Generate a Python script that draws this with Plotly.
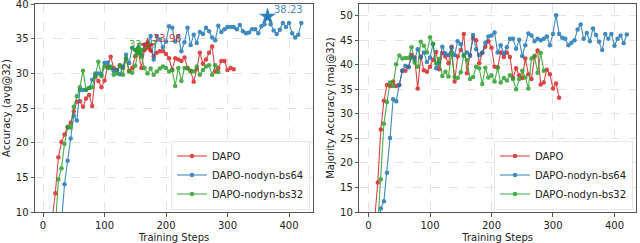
import plotly.graph_objects as go

# ---------------- data ----------------
# Left panel: Accuracy (avg@32)
avg_dapo_steps = list(range(15, 315, 5))
avg_dapo = [9.0, 12.7, 17.9, 20.1, 21.2, 22.2, 22.9, 24.5, 25.9, 26.0,
            25.2, 26.4, 26.9, 25.3, 29.6, 28.9, 28.0, 29.0, 31.0, 32.4,
            30.8, 30.5, 31.2, 30.8, 32.1, 30.4, 30.8, 32.5, 33.0, 30.8,
            33.4, 33.96, 33.3, 32.5, 33.0, 33.2, 33.2, 32.8, 32.2, 30.5,
            32.2, 32.0, 31.8, 32.3, 30.8, 30.4, 28.8, 30.6, 33.0, 31.4,
            32.0, 33.0, 33.9, 30.3, 30.8, 31.8, 31.8, 30.5, 30.8, 30.6]

avg_bs64_steps = list(range(30, 425, 5))
avg_bs64 = [8.4, 14.0, 17.4, 20.6, 23.9, 23.2, 27.6, 27.6, 27.6, 27.9,
            29.1, 30.0, 30.0, 29.9, 31.5, 31.6, 30.8, 30.4, 30.5, 29.9,
            31.0, 32.7, 31.5, 33.7, 33.4, 33.7, 32.7, 34.2, 34.4, 35.4,
            32.0, 35.4, 34.9, 33.8, 34.6, 36.8, 36.6, 34.6, 35.4, 33.2,
            34.5, 36.6, 34.1, 35.6, 34.4, 36.0, 35.7, 36.6, 36.1, 35.2,
            34.8, 36.9, 36.0, 36.4, 36.7, 36.7, 36.7, 36.4, 37.0, 36.1,
            35.8, 35.9, 36.4, 36.4, 35.8, 36.8, 37.1, 38.23, 37.1, 36.2,
            35.7, 36.3, 37.3, 36.7, 37.3, 35.8, 35.2, 35.6, 37.3]

avg_bs32_steps = list(range(20, 290, 5))
avg_bs32 = [7.6, 14.7, 16.3, 19.8, 22.3, 22.2, 25.2, 26.7, 28.0, 30.4,
            27.7, 27.9, 28.0, 29.6, 31.7, 29.6, 31.0, 30.8, 31.0, 29.8,
            30.0, 31.1, 29.8, 32.2, 30.3, 30.1, 31.1, 33.27, 32.4, 30.8,
            30.0, 30.7, 29.8, 30.3, 30.7, 31.0, 30.8, 30.3, 30.5, 28.2,
            30.8, 28.9, 30.8, 30.7, 30.3, 30.3, 31.0, 29.8, 30.5, 31.0,
            31.2, 29.8, 31.2, 30.2]

# Right panel: Majority Accuracy (maj@32)
maj_dapo_steps = list(range(10, 315, 5))
maj_dapo = [8.5, 16.0, 26.8, 32.7, 35.9, 35.7, 36.6, 35.7, 35.9, 38.8,
            38.8, 39.6, 42.0, 41.5, 35.2, 41.7, 38.9, 38.6, 39.6, 41.0,
            42.6, 39.1, 42.4, 41.7, 40.3, 43.7, 36.6, 41.7, 43.0, 46.3,
            38.3, 42.0, 45.4, 45.0, 40.3, 42.4, 43.7, 44.8, 43.5, 39.6,
            39.5, 42.5, 41.6, 42.5, 41.6, 37.3, 39.3, 37.9, 37.3, 41.3,
            38.1, 37.1, 41.7, 42.9, 36.0, 36.4, 39.0, 38.1, 35.2, 36.2,
            33.3]

maj_bs64_steps = list(range(15, 425, 5))
maj_bs64 = [7.0, 10.7, 12.2, 18.0, 25.1, 33.0, 32.6, 35.9, 38.8, 39.8,
            39.5, 41.5, 41.0, 43.2, 41.5, 42.5, 40.6, 41.5, 44.2, 39.3,
            40.5, 43.7, 42.3, 42.0, 43.5, 42.0, 44.8, 44.2, 41.8, 42.5,
            41.8, 46.1, 43.2, 42.0, 42.5, 44.5, 45.8, 46.0, 46.6, 42.5,
            44.0, 42.3, 43.6, 45.3, 45.3, 43.3, 45.1, 41.8, 44.0, 46.4,
            46.0, 44.8, 45.3, 45.0, 45.3, 45.8, 44.0, 46.3, 50.1, 46.3,
            45.5, 45.3, 44.0, 44.5, 45.0, 47.2, 48.2, 45.3, 46.5, 44.8,
            47.4, 46.1, 44.7, 43.0, 46.3, 45.3, 46.3, 43.9, 45.3, 46.0,
            44.4, 46.2]

maj_bs32_steps = list(range(15, 290, 5))
maj_bs32 = [7.2, 16.7, 28.0, 32.4, 36.4, 35.7, 40.1, 41.9, 41.3, 41.4,
            41.4, 43.6, 40.5, 39.6, 44.7, 43.9, 42.5, 45.6, 44.3, 40.3,
            41.2, 37.7, 38.6, 37.6, 42.4, 37.5, 37.3, 38.5, 42.0, 41.0,
            37.1, 37.5, 39.6, 39.3, 36.1, 39.4, 37.4, 37.9, 36.6, 39.4,
            36.4, 37.3, 36.8, 37.9, 37.1, 35.0, 37.1, 38.8, 37.4, 35.2,
            41.3, 41.8, 38.4, 42.4, 38.8]

series_names = ["DAPO", "DAPO-nodyn-bs64", "DAPO-nodyn-bs32"]
colors = ["#d62728", "#1f77b4", "#2ca02c"]
x_ticks = [0, 100, 200, 300, 400]

for s, v in [(avg_dapo_steps, avg_dapo), (avg_bs64_steps, avg_bs64), (avg_bs32_steps, avg_bs32),
             (maj_dapo_steps, maj_dapo), (maj_bs64_steps, maj_bs64), (maj_bs32_steps, maj_bs32)]:
    assert len(s) == len(v), (len(s), len(v))

# ---------------- figure ----------------
fig = go.Figure()
FONT = "DejaVu Sans"

left = [(avg_dapo_steps, avg_dapo), (avg_bs64_steps, avg_bs64), (avg_bs32_steps, avg_bs32)]
right = [(maj_dapo_steps, maj_dapo), (maj_bs64_steps, maj_bs64), (maj_bs32_steps, maj_bs32)]

for i, (s, v) in enumerate(left):
    fig.add_trace(go.Scatter(x=s, y=v, mode="lines+markers", name=series_names[i],
                             line=dict(color=colors[i], width=1.1),
                             marker=dict(size=4.5, color=colors[i]),
                             opacity=0.85, xaxis="x", yaxis="y", legend="legend"))
for i, (s, v) in enumerate(right):
    fig.add_trace(go.Scatter(x=s, y=v, mode="lines+markers", name=series_names[i],
                             line=dict(color=colors[i], width=1.1),
                             marker=dict(size=4.5, color=colors[i]),
                             opacity=0.85, xaxis="x2", yaxis="y2", legend="legend2"))

# stars at best points (left panel)
label_shift = [(3, 8), (4, 7), (-11, 6)]
for i, (s, v) in enumerate(left):
    k = max(range(len(v)), key=lambda j: v[j])
    fig.add_trace(go.Scatter(x=[s[k]], y=[v[k]], mode="markers", showlegend=False,
                             marker=dict(symbol="star", size=13, color=colors[i]),
                             opacity=0.9, xaxis="x", yaxis="y", hoverinfo="skip"))
    fig.add_annotation(x=s[k], y=v[k], xref="x", yref="y", text=f"{v[k]:.2f}",
                       showarrow=False, xanchor="left", yanchor="middle",
                       xshift=label_shift[i][0], yshift=label_shift[i][1],
                       font=dict(family=FONT, size=10, color=colors[i]), opacity=0.85)

axis_common = dict(showgrid=True, gridcolor="#e3e3e3", griddash="dash", gridwidth=0.8,
                   showline=True, mirror=True, linecolor="#555555", linewidth=1,
                   ticks="outside", ticklen=3.5, tickcolor="#555555", zeroline=False,
                   ticklabeloverflow="allow", automargin=False,
                   tickfont=dict(family=FONT, size=10, color="#222222"))

fig.update_layout(
    width=640, height=243,
    margin=dict(l=35, r=4, t=4, b=31, autoexpand=False),
    paper_bgcolor="white", plot_bgcolor="white",
    font=dict(family=FONT, size=10, color="#222222"),
    xaxis=dict(domain=[0, 0.4626], range=[-13, 439], tickvals=x_ticks, anchor="y",
               title=dict(text="Training Steps", standoff=5, font=dict(size=10)), **axis_common),
    yaxis=dict(range=[10, 40.03], tickvals=[10, 15, 20, 25, 30, 35, 40], anchor="x",
               title=dict(text="Accuracy (avg@32)", standoff=3, font=dict(size=10)), **axis_common),
    xaxis2=dict(domain=[0.5396, 1], range=[-15, 435], tickvals=x_ticks, anchor="y2",
                title=dict(text="Training Steps", standoff=5, font=dict(size=10)), **axis_common),
    yaxis2=dict(range=[10, 52.4], dtick=5, anchor="x2",
                title=dict(text="Majority Accuracy (maj@32)", standoff=3, font=dict(size=10)), **axis_common),
    legend=dict(x=0.4576, xanchor="right", y=0.012, yanchor="bottom",
                bgcolor="rgba(255,255,255,0.9)", bordercolor="#e6e6e6", borderwidth=1,
                font=dict(family=FONT, size=10), tracegroupgap=0),
    legend2=dict(x=0.995, xanchor="right", y=0.012, yanchor="bottom",
                 bgcolor="rgba(255,255,255,0.9)", bordercolor="#e6e6e6", borderwidth=1,
                 font=dict(family=FONT, size=10), tracegroupgap=0),
)

fig.write_html("out.html", config={"displayModeBar": False},
               post_script="document.body.style.margin='0';document.body.style.overflow='hidden';")
